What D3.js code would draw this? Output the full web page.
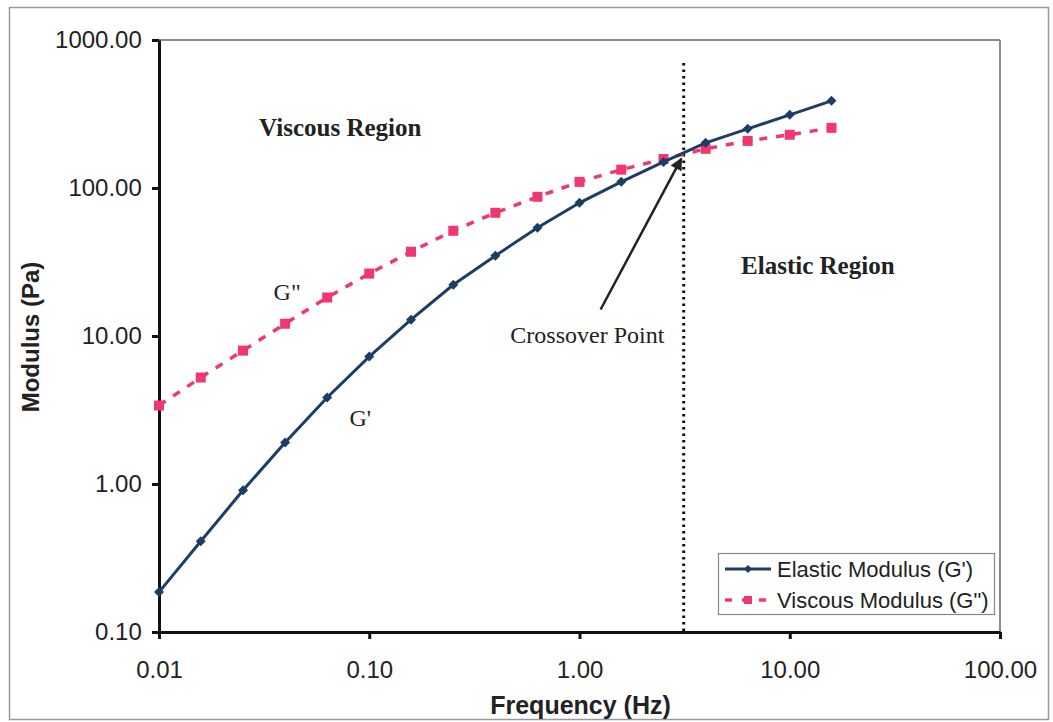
<!DOCTYPE html>
<html><head><meta charset="utf-8">
<script src="https://cdn.jsdelivr.net/npm/d3@7/dist/d3.min.js"></script>
<style>
html,body{margin:0;padding:0;background:#fff;}
svg{display:block;}
</style></head>
<body><svg id="chart" width="1053" height="722"></svg>
<script>
const frequency = [0.01, 0.0158, 0.0251, 0.0398, 0.0631, 0.1, 0.158, 0.251, 0.398, 0.631, 1.0, 1.58, 2.51, 3.98, 6.31, 10.0, 15.8];
const elasticModulus = [0.186, 0.41, 0.906, 1.91, 3.84, 7.26, 12.9, 22.2, 34.9, 53.9, 79.4, 110, 150, 202, 251, 312, 388];
const viscousModulus = [3.39, 5.24, 7.97, 12.1, 18.2, 26.4, 37.1, 51.4, 68.0, 87.2, 110, 133, 157, 184, 208, 229, 255];
const xTicks = [0.01, 0.1, 1, 10, 100];
const xTickLabels = ["0.01", "0.10", "1.00", "10.00", "100.00"];
const yTicks = [0.1, 1, 10, 100, 1000];
const yTickLabels = ["0.10", "1.00", "10.00", "100.00", "1000.00"];
const seriesNames = ["Elastic Modulus (G')", "Viscous Modulus (G\")"];
const crossoverFrequency = 3.13;

const svg = d3.select("#chart");
const m = {left: 159, right: 1000, top: 40, bottom: 632};

svg.append("rect").attr("x", 9.5).attr("y", 7.5).attr("width", 1039).attr("height", 712)
  .attr("fill", "#fff").attr("stroke", "#9a9a9a").attr("stroke-width", 1.5);

const x = d3.scaleLog().domain([0.01, 100]).range([m.left, m.right]);
const y = d3.scaleLog().domain([0.1, 1000]).range([m.bottom, m.top]);

svg.append("line").attr("x1", m.left).attr("x2", m.right).attr("y1", m.top).attr("y2", m.top)
  .attr("stroke", "#8c8c8c").attr("stroke-width", 2);
svg.append("line").attr("x1", m.right).attr("x2", m.right).attr("y1", m.top).attr("y2", m.bottom)
  .attr("stroke", "#8c8c8c").attr("stroke-width", 2);

const tickFont = "Arial, 'Liberation Sans', sans-serif";

const xAxis = svg.append("g").attr("transform", `translate(0,${m.bottom})`)
  .call(d3.axisBottom(x).tickValues(xTicks).tickFormat((d, i) => xTickLabels[i]).tickSize(7).tickSizeOuter(0));
xAxis.select(".domain").attr("stroke", "#111").attr("stroke-width", 3);
xAxis.selectAll(".tick line").attr("stroke", "#111").attr("stroke-width", 3);
xAxis.selectAll(".tick text").attr("font-family", tickFont).attr("font-size", 24).attr("fill", "#222").attr("dy", "1.5em");

const yAxis = svg.append("g").attr("transform", `translate(${m.left},0)`)
  .call(d3.axisLeft(y).tickValues(yTicks).tickFormat((d, i) => yTickLabels[i]).tickSize(7).tickSizeOuter(0));
yAxis.select(".domain").attr("stroke", "#111").attr("stroke-width", 3);
yAxis.selectAll(".tick line").attr("stroke", "#111").attr("stroke-width", 3);
yAxis.selectAll(".tick text").attr("font-family", tickFont).attr("font-size", 24).attr("fill", "#222").attr("dx", "-0.3em");

svg.append("text").attr("x", (m.left + m.right) / 2 + 1).attr("y", 714).attr("text-anchor", "middle")
  .attr("font-family", tickFont).attr("font-weight", "bold").attr("font-size", 25).attr("fill", "#222")
  .text("Frequency (Hz)");
svg.append("text").attr("transform", `translate(39,${(m.top + m.bottom) / 2 + 1}) rotate(-90)`).attr("text-anchor", "middle")
  .attr("font-family", tickFont).attr("font-weight", "bold").attr("font-size", 24).attr("fill", "#222")
  .text("Modulus (Pa)");

svg.append("line").attr("x1", x(crossoverFrequency)).attr("x2", x(crossoverFrequency))
  .attr("y1", y(700)).attr("y2", m.bottom)
  .attr("stroke", "#111").attr("stroke-width", 3).attr("stroke-dasharray", "2.5,4");

const gColor = "#1d3d66", vColor = "#f0386e";
const pts = frequency.map((f, i) => ({f, g: elasticModulus[i], v: viscousModulus[i]}));

const lineV = d3.line().x(d => x(d.f)).y(d => y(d.v));
svg.append("path").datum(pts).attr("d", lineV).attr("fill", "none").attr("stroke", vColor)
  .attr("stroke-width", 3.5).attr("stroke-dasharray", "8,9");
svg.selectAll(".vm").data(pts).enter().append("rect")
  .attr("x", d => x(d.f) - 5).attr("y", d => y(d.v) - 5).attr("width", 10).attr("height", 10).attr("fill", vColor);

const lineG = d3.line().x(d => x(d.f)).y(d => y(d.g));
svg.append("path").datum(pts).attr("d", lineG).attr("fill", "none").attr("stroke", gColor).attr("stroke-width", 3);
svg.selectAll(".gm").data(pts).enter().append("path")
  .attr("transform", d => `translate(${x(d.f)},${y(d.g)})`)
  .attr("d", "M0,-5L5,0L0,5L-5,0Z").attr("fill", gColor);

const serif = "'Times New Roman', 'Liberation Serif', serif";
svg.append("text").attr("x", x(0.0728)).attr("y", y(225)).attr("text-anchor", "middle")
  .attr("font-family", serif).attr("font-weight", "bold").attr("font-size", 25).attr("fill", "#222").text("Viscous Region");
svg.append("text").attr("x", x(13.6)).attr("y", y(26.4)).attr("text-anchor", "middle")
  .attr("font-family", serif).attr("font-weight", "bold").attr("font-size", 25).attr("fill", "#222").text("Elastic Region");
svg.append("text").attr("x", x(0.0407)).attr("y", y(17.6)).attr("text-anchor", "middle")
  .attr("font-family", serif).attr("font-size", 24).attr("fill", "#222").text("G\"");
svg.append("text").attr("x", x(0.0906)).attr("y", y(2.48)).attr("text-anchor", "middle")
  .attr("font-family", serif).attr("font-size", 24).attr("fill", "#222").text("G'");
svg.append("text").attr("x", x(1.09)).attr("y", y(9.02)).attr("text-anchor", "middle")
  .attr("font-family", serif).attr("font-size", 24).attr("fill", "#222").text("Crossover Point");

svg.append("defs").append("marker").attr("id", "arr").attr("viewBox", "0 0 10 10")
  .attr("refX", 9).attr("refY", 5).attr("markerWidth", 5).attr("markerHeight", 5).attr("orient", "auto")
  .append("path").attr("d", "M0,0L10,5L0,10Z").attr("fill", "#222");
svg.append("line").attr("x1", x(1.26)).attr("y1", y(15.1)).attr("x2", x(3.05)).attr("y2", y(158))
  .attr("stroke", "#222").attr("stroke-width", 2.5).attr("marker-end", "url(#arr)");

const lg = svg.append("g");
lg.append("rect").attr("x", 718.5).attr("y", 553.5).attr("width", 276).attr("height", 61)
  .attr("fill", "#fff").attr("stroke", "#888").attr("stroke-width", 1.2);
[0, 1].forEach(i => {
  const ly = 569 + i * 31;
  if (i === 0) {
    lg.append("line").attr("x1", 725).attr("x2", 771).attr("y1", ly).attr("y2", ly).attr("stroke", gColor).attr("stroke-width", 3);
    lg.append("path").attr("transform", `translate(748,${ly})`).attr("d", "M0,-4L4,0L0,4L-4,0Z").attr("fill", gColor);
  } else {
    lg.append("line").attr("x1", 725).attr("x2", 771).attr("y1", ly).attr("y2", ly).attr("stroke", vColor)
      .attr("stroke-width", 3.5).attr("stroke-dasharray", "7,10");
    lg.append("rect").attr("x", 744).attr("y", ly - 4).attr("width", 8).attr("height", 8).attr("fill", vColor);
  }
  lg.append("text").attr("x", 777).attr("y", ly).attr("dy", "0.35em").attr("font-family", tickFont)
    .attr("font-size", 22).attr("fill", "#222").text(seriesNames[i]);
});
</script></body></html>
